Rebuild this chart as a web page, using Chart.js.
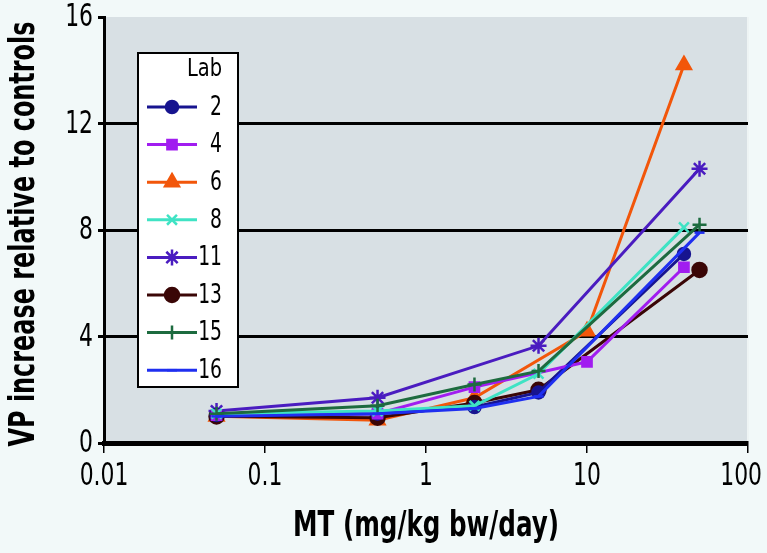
<!DOCTYPE html>
<html>
<head>
<meta charset="utf-8">
<script src="https://cdn.jsdelivr.net/npm/chart.js@4"></script>
<style>
  html, body { margin: 0; padding: 0; background: #f2f9f9; }
  #wrap { width: 767px; height: 553px; }
</style>
</head>
<body>
<div id="wrap"><canvas id="vp"></canvas></div>
<script>
// doses (mg/kg bw/day) and VP increase per lab
var lab2Dose = [0.05, 0.5, 2, 5, 40];
var lab2Vp = [1.05, 1.1, 1.35, 1.9, 7.1];
var lab4Dose = [0.05, 0.5, 2, 10, 40];
var lab4Vp = [1.05, 1.1, 2.1, 3.05, 6.6];
var lab6Dose = [0.05, 0.5, 2, 10, 40];
var lab6Vp = [1.0, 0.85, 1.7, 4.2, 14.2];
var lab8Dose = [0.05, 0.5, 2, 5, 40];
var lab8Vp = [1.1, 1.2, 1.4, 2.6, 8.1];
var lab11Dose = [0.05, 0.5, 5, 50];
var lab11Vp = [1.2, 1.7, 3.65, 10.3];
var lab13Dose = [0.05, 0.5, 2, 5, 50];
var lab13Vp = [1.0, 0.95, 1.5, 2.0, 6.5];
var lab15Dose = [0.05, 0.5, 2, 5, 50];
var lab15Vp = [1.1, 1.4, 2.2, 2.7, 8.2];
var lab16Dose = [0.05, 0.5, 2, 5, 50];
var lab16Vp = [1.0, 1.1, 1.3, 1.75, 7.9];

var xTicks = [0.01, 0.1, 1, 10, 100];
var yTicks = [0, 4, 8, 12, 16];
var xTitle = 'MT (mg/kg bw/day)';
var yTitle = 'VP increase relative to controls';
var legendTitle = 'Lab';

var cond = '"DejaVu Sans Condensed", "DejaVu Sans", sans-serif';

function pts(xs, ys) {
	return xs.map(function (x, i) { return {x: x, y: ys[i]}; });
}

function lab(name, xs, ys, color, style, r) {
	return {
		label: name,
		data: pts(xs, ys),
		showLine: true,
		borderColor: color,
		backgroundColor: color,
		borderWidth: 3,
		pointStyle: style,
		pointRadius: r,
		pointBorderWidth: 2.5,
		pointHoverRadius: r
	};
}

var datasets = [
	lab('16', lab16Dose, lab16Vp, '#1f2ff0', 'line', 5),
	lab('15', lab15Dose, lab15Vp, '#1d6b3f', 'cross', 7),
	lab('8', lab8Dose, lab8Vp, '#3fe3c4', 'crossRot', 7),
	lab('4', lab4Dose, lab4Vp, '#a11df0', 'rect', 6.5),
	lab('2', lab2Dose, lab2Vp, '#17148f', 'circle', 6),
	lab('13', lab13Dose, lab13Vp, '#3a0606', 'circle', 7),
	lab('11', lab11Dose, lab11Vp, '#4a1cc0', 'star', 8),
	lab('6', lab6Dose, lab6Vp, '#f2560a', 'triangle', 8)
];
var legendOrder = ['2', '4', '6', '8', '11', '13', '15', '16'];

// squeezed text, the original uses a condensed face
function squeeze(c, text, x, y, k) {
	var w = c.measureText(text).width;
	c.fillText(text, x, y, w * k);
	return w * k;
}

var plotBg = {
	id: 'plotBg',
	beforeDraw: function (chart) {
		var a = chart.chartArea, c = chart.ctx;
		c.save();
		c.fillStyle = '#d8e0e4';
		c.fillRect(a.left, a.top, a.right - a.left, a.bottom - a.top);
		c.strokeStyle = '#eef4f4';
		c.lineWidth = 2;
		c.beginPath();
		c.moveTo(a.right, a.top);
		c.lineTo(a.right, a.bottom);
		c.stroke();
		c.restore();
	}
};

var axisText = {
	id: 'axisText',
	afterDraw: function (chart) {
		var c = chart.ctx, a = chart.chartArea;
		var xs = chart.scales.x, ys = chart.scales.y;
		c.save();
		c.fillStyle = '#000';
		c.textBaseline = 'middle';
		c.font = '32px ' + cond;
		c.textAlign = 'center';
		xTicks.forEach(function (v) {
			var t = String(v);
			var half = c.measureText(t).width * 0.76 / 2;
			var px = Math.min(xs.getPixelForValue(v), chart.width - half - 5);
			squeeze(c, t, px, a.bottom + 34, 0.76);
		});
		c.textAlign = 'right';
		yTicks.forEach(function (v) {
			squeeze(c, String(v), a.left - 11, ys.getPixelForValue(v) + 1, 0.76);
		});
		c.font = 'bold 36px ' + cond;
		c.textAlign = 'center';
		squeeze(c, xTitle, (a.left + a.right) / 2, 527, 0.76);
		c.translate(25, (a.top + a.bottom) / 2 + 4);
		c.rotate(-Math.PI / 2);
		c.font = 'bold 35px ' + cond;
		squeeze(c, yTitle, 0, 0, 0.76);
		c.restore();
	}
};

var labLegend = {
	id: 'labLegend',
	afterDraw: function (chart) {
		var c = chart.ctx;
		var bx = 138, by = 53, bw = 100, bh = 334;
		c.save();
		c.fillStyle = '#ffffff';
		c.fillRect(bx, by, bw, bh);
		c.strokeStyle = '#000';
		c.lineWidth = 2;
		c.strokeRect(bx, by, bw, bh);
		c.fillStyle = '#000';
		c.textAlign = 'right';
		c.textBaseline = 'middle';
		c.font = '24px ' + cond;
		squeeze(c, legendTitle, 222, 70, 0.9);
		legendOrder.forEach(function (name, i) {
			var ds = chart.data.datasets.find(function (d) { return d.label === name; });
			var y = 107 + i * 37.6;
			c.strokeStyle = ds.borderColor;
			c.fillStyle = ds.backgroundColor;
			c.lineWidth = 3;
			c.beginPath();
			c.moveTo(147, y);
			c.lineTo(197, y);
			c.stroke();
			c.lineWidth = ds.pointBorderWidth;
			Chart.helpers.drawPoint(c, {pointStyle: ds.pointStyle, radius: ds.pointRadius, rotation: 0, borderWidth: ds.pointBorderWidth}, 172, y);
			c.fillStyle = '#000';
			c.font = '26px ' + cond;
			squeeze(c, name, 222, y + 1, 0.8);
		});
		c.restore();
	}
};

new Chart(document.getElementById('vp'), {
	type: 'scatter',
	data: {datasets: datasets},
	plugins: [plotBg, axisText, labLegend],
	options: {
		responsive: true,
		maintainAspectRatio: false,
		animation: false,
		layout: {padding: {top: 17, right: 19, left: 0, bottom: 0}},
		plugins: {legend: {display: false}, tooltip: {enabled: false}},
		scales: {
			x: {
				type: 'logarithmic',
				min: 0.01,
				max: 100,
				afterBuildTicks: function (s) {
					s.ticks = xTicks.map(function (v) { return {value: v}; });
				},
				afterFit: function (s) { s.height = 110; },
				ticks: {display: false},
				grid: {drawOnChartArea: false, color: '#000', tickLength: 10, lineWidth: 1.5},
				border: {color: '#000', width: 5}
			},
			y: {
				min: 0,
				max: 16,
				afterBuildTicks: function (s) {
					s.ticks = yTicks.map(function (v) { return {value: v}; });
				},
				afterFit: function (s) { s.width = 104; },
				ticks: {display: false},
				grid: {
					color: function (ctx) {
						var v = ctx.tick && ctx.tick.value;
						return (v === 0 || v === 16) ? 'rgba(0,0,0,0)' : '#000';
					},
					tickColor: '#000',
					tickLength: 6,
					lineWidth: 3
				},
				border: {color: '#000', width: 3}
			}
		}
	}
});
</script>
</body>
</html>
